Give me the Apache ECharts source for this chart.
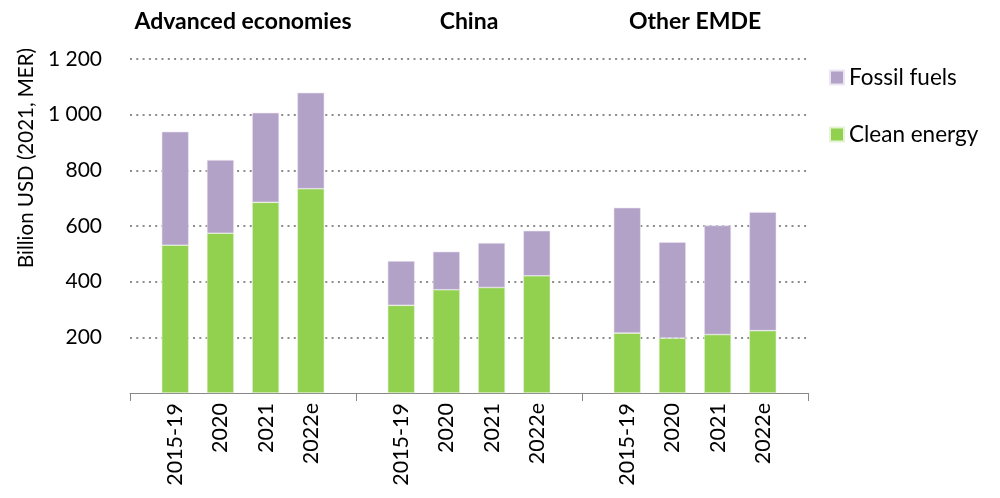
<!DOCTYPE html>
<html>
<head>
<meta charset="utf-8">
<script src="https://cdn.jsdelivr.net/npm/echarts@6/dist/echarts.min.js"></script>
<style>html,body{margin:0;padding:0;background:#fff}#c{width:1000px;height:498px}</style>
</head>
<body>
<div id="c"></div>
<script>
const groups = ['Advanced economies', 'China', 'Other EMDE'];
const periods = ['2015-19', '2020', '2021', '2022e'];
const cleanAdvanced = [531, 574, 685, 734];
const cleanChina = [315, 371, 379, 421];
const cleanOther = [215, 197, 210, 224];
const fossilAdvanced = [408, 263, 322, 345];
const fossilChina = [159, 137, 160, 162];
const fossilOther = [451, 345, 392, 426];
const yTicks = [0, 200, 400, 600, 800, 1000, 1200];

// Build category list: a blank slot at each group boundary
const cats = [];
const cleanData = [];
const fossilData = [];
const cleanAll = [cleanAdvanced, cleanChina, cleanOther];
const fossilAll = [fossilAdvanced, fossilChina, fossilOther];
for (let g = 0; g < groups.length; g++) {
  cats.push('gap' + g); cleanData.push('-'); fossilData.push('-');
  for (let p = 0; p < periods.length; p++) {
    cats.push(periods[p] + '|' + g);
    cleanData.push(cleanAll[g][p]);
    fossilData.push(fossilAll[g][p]);
  }
}
cats.push('gap' + groups.length); cleanData.push('-'); fossilData.push('-');

const FONT = 'Lato';
const chart = echarts.init(document.getElementById('c'));
chart.setOption({
  animation: false,
  backgroundColor: '#fff',
  grid: { left: 130, right: 192, top: 59, bottom: 105 },
  legend: {
    data: ['Fossil fuels', 'Clean energy'],
    orient: 'vertical',
    left: 824, top: 61,
    itemWidth: 14, itemHeight: 14, itemGap: 34,
    icon: 'rect',
    textStyle: { fontFamily: FONT, fontSize: 22.5, color: '#000' }
  },
  xAxis: [{
    type: 'category',
    data: cats,
    boundaryGap: false,
    axisLine: { lineStyle: { color: '#888', width: 1 } },
    axisTick: { show: true, length: 8, lineStyle: { color: '#888' },
      interval: function (i) { return i % 5 === 0; } },
    axisLabel: {
      interval: 0, rotate: 90, margin: 10,
      fontFamily: FONT, fontSize: 21.5, color: '#000',
      formatter: function (v) { return v.indexOf('gap') === 0 ? '' : v.split('|')[0]; }
    },
    splitLine: { show: false }
  }, {
    type: 'category',
    position: 'top',
    data: groups,
    boundaryGap: true,
    axisLine: { show: false },
    axisTick: { show: false },
    axisLabel: { interval: 0, margin: 26, fontFamily: FONT, fontWeight: 'bold', fontSize: 23, color: '#000' }
  }],
  yAxis: {
    type: 'value',
    min: yTicks[0], max: yTicks[yTicks.length - 1], interval: 200,
    name: 'Billion USD (2021, MER)',
    nameLocation: 'middle', nameRotate: 90, nameGap: 90,
    nameTextStyle: { fontFamily: FONT, fontSize: 20.5, color: '#000', padding: [0, 0, 0, 136] },
    axisLine: { show: false },
    axisTick: { show: false },
    axisLabel: {
      margin: 28, fontFamily: FONT, fontSize: 21, color: '#000',
      formatter: function (v) { return v === 0 ? '' : String(v).replace(/\B(?=(\d{3})+(?!\d))/g, ' '); }
    },
    splitLine: {
      show: true, showMinLine: false,
      lineStyle: { color: '#8c8c8c', width: 2, type: [2, 4.3] }
    }
  },
  series: [{
    name: 'Clean energy', type: 'bar', stack: 'total', barWidth: 27,
    itemStyle: { color: '#92D050', borderColor: '#e6f3d6', borderWidth: 0.6 },
    data: cleanData
  }, {
    name: 'Fossil fuels', type: 'bar', stack: 'total', barWidth: 27,
    itemStyle: { color: '#B3A2C7', borderColor: '#ece6f2', borderWidth: 0.6 },
    data: fossilData
  }]
});
</script>
</body>
</html>
